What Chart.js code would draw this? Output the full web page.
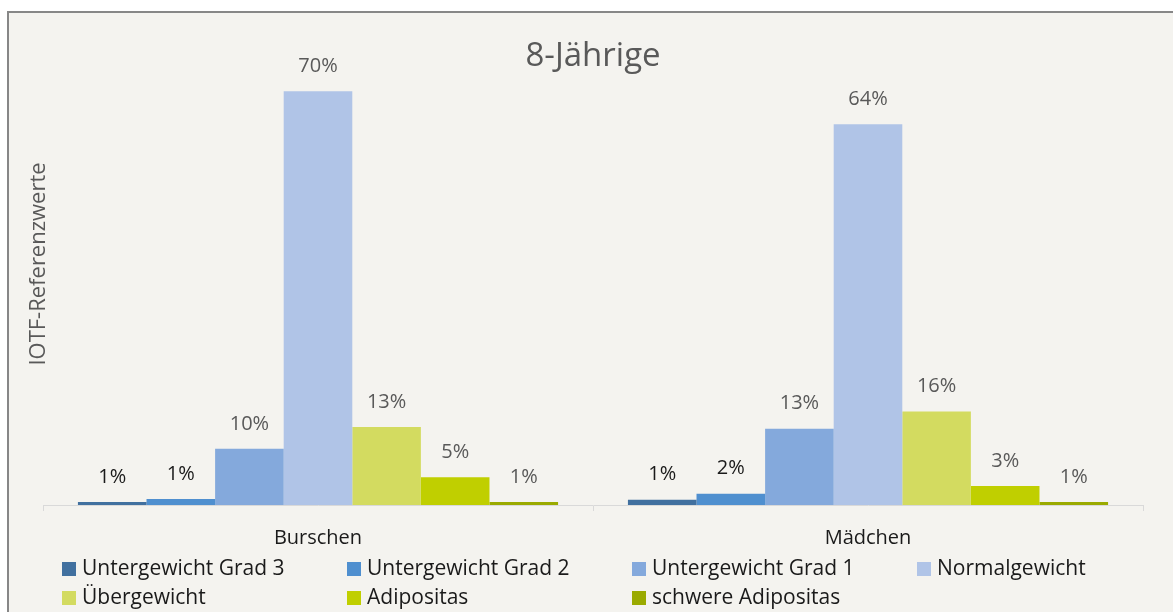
<!DOCTYPE html>
<html>
<head>
<meta charset="utf-8">
<script src="https://cdn.jsdelivr.net/npm/chart.js@4/dist/chart.umd.min.js"></script>
<style>
  body { margin: 0; background: #fff; }
  #frame {
    position: absolute; left: 7px; top: 11px;
    width: 1166px; height: 601px;
    border-left: 2px solid #878787; border-top: 2px solid #878787;
    background: #f4f3ef;
  }
  #wrap { width: 1164px; height: 599px; }
</style>
</head>
<body>
<div id="frame"><div id="wrap"><canvas id="myChart"></canvas></div></div>
<script>
var categories = ["Burschen", "Mädchen"];
var seriesNames = ["Untergewicht Grad 3", "Untergewicht Grad 2", "Untergewicht Grad 1",
                   "Normalgewicht", "Übergewicht", "Adipositas", "schwere Adipositas"];
var ug3 = [0.5, 0.9];
var ug2 = [1.0, 1.9];
var ug1 = [9.5, 12.9];
var normal = [70, 64.4];
var ueber = [13.2, 15.8];
var adip = [4.7, 3.2];
var schwer = [0.5, 0.5];
var seriesValues = [ug3, ug2, ug1, normal, ueber, adip, schwer];
var barColors = ["#41709F", "#4F8FCF", "#84A9DC", "#B0C4E7", "#D3DB60", "#C0CF00", "#9AAA00"];
var labelColors = ["#1a1a1a", "#1a1a1a", "#595959", "#595959", "#595959", "#595959", "#595959"];

var FONT = "'Open Sans', sans-serif";

var extras = {
  id: "extras",
  afterDatasetsDraw(chart) {
    var c = chart.ctx;
    c.save();
    // value labels
    c.font = "20px " + FONT;
    c.textAlign = "center";
    c.textBaseline = "middle";
    chart.data.datasets.forEach(function (ds, i) {
      var meta = chart.getDatasetMeta(i);
      meta.data.forEach(function (bar, j) {
        c.fillStyle = labelColors[i];
        c.fillText(Math.round(ds.data[j]) + "%", bar.x, bar.y - 25);
      });
    });
    // title
    c.fillStyle = "#595959";
    c.font = "33px " + FONT;
    c.fillText("8-Jährige", 584, 44);
    // y axis title
    c.font = "22px " + FONT;
    c.translate(30, 251);
    c.rotate(-Math.PI / 2);
    c.fillText("IOTF-Referenzwerte", 0, 0);
    c.restore();
    // legend in fixed columns
    c.save();
    c.font = "21px " + FONT;
    c.textAlign = "left";
    c.textBaseline = "middle";
    seriesNames.forEach(function (name, i) {
      var col = i % 4, row = Math.floor(i / 4);
      var x = 53 + col * 285, y = 556 + row * 29;
      c.fillStyle = barColors[i];
      c.fillRect(x, y - 7, 14, 14);
      c.fillStyle = "#1a1a1a";
      c.fillText(name, x + 20, y);
    });
    c.restore();
  }
};

new Chart(document.getElementById("myChart"), {
  type: "bar",
  data: {
    labels: categories,
    datasets: seriesNames.map(function (name, i) {
      return {
        label: name,
        data: seriesValues[i],
        backgroundColor: barColors[i],
        barPercentage: 1.0,
        categoryPercentage: 0.873
      };
    })
  },
  options: {
    responsive: true,
    maintainAspectRatio: false,
    animation: false,
    layout: { padding: { top: 19, left: 34, right: 30, bottom: 47 } },
    plugins: {
      legend: { display: false },
      tooltip: { enabled: false }
    },
    scales: {
      x: {
        grid: { drawOnChartArea: false, drawTicks: true, tickLength: 6, color: "#d9d9d9", offset: true },
        border: { color: "#d9d9d9", width: 1 },
        ticks: { color: "#1a1a1a", font: { size: 20, family: FONT }, padding: 15 }
      },
      y: {
        display: false,
        min: 0,
        max: 80
      }
    }
  },
  plugins: [extras]
});
</script>
</body>
</html>
